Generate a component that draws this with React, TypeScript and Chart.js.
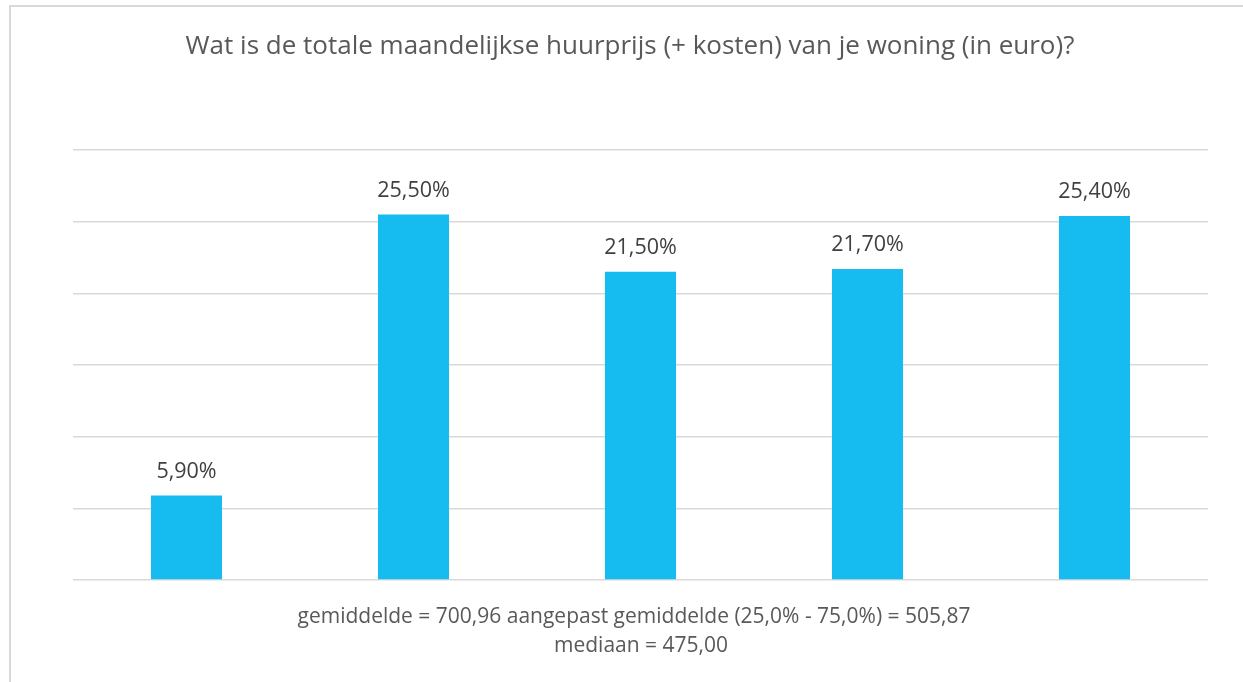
import React, { useEffect, useRef } from "react";
import { Chart, registerables } from "chart.js";

Chart.register(...registerables);

const title = "Wat is de totale maandelijkse huurprijs (+ kosten) van je woning (in euro)?";
const categories = ["cat1", "cat2", "cat3", "cat4", "cat5"];
const values = [5.9, 25.5, 21.5, 21.7, 25.4];
const valueLabels = ["5,90%", "25,50%", "21,50%", "21,70%", "25,40%"];
const footerLines = [
  "gemiddelde = 700,96 aangepast gemiddelde (25,0% - 75,0%) = 505,87",
  "mediaan = 475,00",
];

const FONT = "'Open Sans', 'Noto Sans', sans-serif";

const textPlugin = {
  id: "textPlugin",
  afterDraw(chart: any) {
    const ctx = chart.ctx;
    ctx.save();
    ctx.textAlign = "center";
    ctx.textBaseline = "middle";
    // title
    ctx.fillStyle = "#595959";
    ctx.font = `26px ${FONT}`;
    ctx.fillText(title, 630, 47);
    // value labels
    ctx.fillStyle = "#404040";
    ctx.font = `21.5px ${FONT}`;
    const meta = chart.getDatasetMeta(0);
    meta.data.forEach((bar: any, i: number) => {
      ctx.fillText(valueLabels[i], bar.x, bar.y - 24);
    });
    // footer
    ctx.fillStyle = "#595959";
    ctx.font = `21px ${FONT}`;
    ctx.fillText(footerLines[0], 634, 617);
    ctx.fillText(footerLines[1], 641, 646);
    ctx.restore();
  },
};

export default function App() {
  const ref = useRef<HTMLCanvasElement>(null);
  useEffect(() => {
    document.body.style.margin = "0";
    const chart = new Chart(ref.current!, {
      type: "bar",
      data: {
        labels: categories,
        datasets: [
          {
            data: values,
            backgroundColor: "#16BCEF",
            barPercentage: 0.313,
            categoryPercentage: 1,
          },
        ],
      },
      options: {
        animation: false,
        responsive: false,
        layout: { padding: { left: 73, right: 35, top: 150, bottom: 102 } },
        plugins: { legend: { display: false }, tooltip: { enabled: false }, title: { display: false } },
        scales: {
          x: {
            display: false,
          },
          y: {
            min: 0,
            max: 30,
            ticks: { display: false, stepSize: 5 },
            grid: { color: "#d9d9d9", lineWidth: 1.5, drawTicks: false },
            border: { display: false },
          },
        },
      },
      plugins: [textPlugin],
    });
    return () => chart.destroy();
  }, []);
  return (
    <div style={{ position: "relative", width: 1243, height: 682, background: "#fff", overflow: "hidden" }}>
      <div
        style={{
          position: "absolute",
          left: 9,
          top: 5,
          width: 1300,
          height: 700,
          borderTop: "2px solid #d9d9d9",
          borderLeft: "2px solid #d9d9d9",
        }}
      />
      <canvas ref={ref} width={1243} height={682} style={{ position: "absolute", left: 0, top: 0 }} />
    </div>
  );
}
